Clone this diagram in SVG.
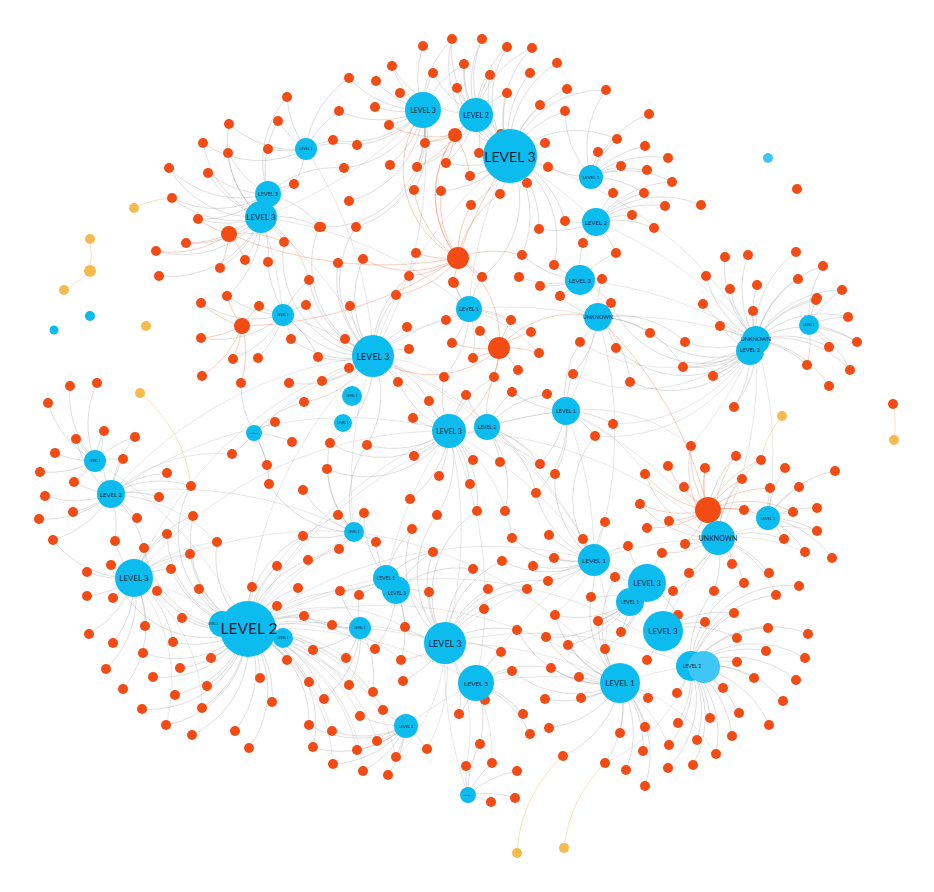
<svg xmlns="http://www.w3.org/2000/svg" width="934" height="892" viewBox="0 0 934 892">
<style>
.e{fill:none;stroke:#8c8c8c;stroke-width:.55;stroke-opacity:.5}
.l{fill:none;stroke:#9a9a9a;stroke-width:.5;stroke-opacity:.45}
.r{fill:none;stroke:#ee6a45;stroke-width:.6;stroke-opacity:.55}
.y{fill:none;stroke:#f3c27a;stroke-width:.6;stroke-opacity:.8}
.o{fill:#f24c14}
.b{fill:#0cbcef}
.b2{fill:#3fc6f4}
.yl{fill:#f6bb4f}
text{font-family:Lato,"Liberation Sans",sans-serif;fill:#0e2238;text-anchor:middle;dominant-baseline:central}
</style>
<rect width="934" height="892" fill="#fff"/>
<g id="connectors">
<path class="e" d="M510 156A99 99 0 0 1 452 39M510 156A99 99 0 0 1 482 39M510 156A99 99 0 0 1 507 47M510 156A99 99 0 0 1 532 48M510 156A99 99 0 0 1 464 64M510 156A99 99 0 0 1 490 75M510 156A99 99 0 0 1 530 73M510 156A99 99 0 0 1 557 63M510 156A99 99 0 0 1 457 88M510 156A99 99 0 0 1 567 89M510 156A99 99 0 0 1 507 93M510 156A99 99 0 0 1 540 105M510 156A99 99 0 0 1 565 111M510 156A99 99 0 0 1 501 134M510 156A99 99 0 0 1 479 153M510 156A99 99 0 0 1 545 143M510 156A99 99 0 0 1 548 167M510 156A99 99 0 0 1 527 183M510 156A99 99 0 0 1 500 194M510 156A99 99 0 0 1 470 176M510 156A99 99 0 0 1 446 163M510 156A99 99 0 0 1 441 191M510 156A99 99 0 0 1 471 205M510 156A99 99 0 0 1 539 229M510 156A99 99 0 0 1 565 221M510 156A99 99 0 0 1 522 255M510 156A99 99 0 0 1 606 90M510 156A99 99 0 0 1 617 139M510 156A99 99 0 0 1 554 265M510 156A99 99 0 0 1 482 277"/>
<path class="e" d="M423 110A99 99 0 0 1 423 46M423 110A99 99 0 0 1 392 66M423 110A99 99 0 0 1 433 73M423 110A99 99 0 0 1 349 78M423 110A99 99 0 0 1 376 81M423 110A99 99 0 0 1 400 93M423 110A99 99 0 0 1 339 111M423 110A99 99 0 0 1 375 107M423 110A99 99 0 0 1 389 125M423 110A99 99 0 0 1 333 140M423 110A99 99 0 0 1 357 145M423 110A99 99 0 0 1 425 143M423 110A99 99 0 0 1 344 168M423 110A99 99 0 0 1 390 165M423 110A99 99 0 0 1 417 167M423 110A99 99 0 0 1 414 190M423 110A99 99 0 0 1 349 201M423 110A99 99 0 0 1 452 39M423 110A99 99 0 0 1 464 64M423 110A99 99 0 0 1 321 227M423 110A99 99 0 0 1 356 227"/>
<path class="e" d="M476 115A99 99 0 0 1 452 39M476 115A99 99 0 0 1 482 39M476 115A99 99 0 0 1 464 64M476 115A99 99 0 0 1 490 75M476 115A99 99 0 0 1 457 88M476 115A99 99 0 0 1 433 73M476 115A99 99 0 0 1 507 93M476 115A99 99 0 0 1 425 143M476 115A99 99 0 0 1 446 163M476 115A99 99 0 0 1 479 153M476 115A99 99 0 0 1 501 134M476 115A99 99 0 0 1 507 47M476 115A99 99 0 0 1 532 48M476 115A99 99 0 0 1 392 66M476 115A99 99 0 0 1 417 167"/>
<path class="e" d="M306 149A99 99 0 0 1 287 97M306 149A99 99 0 0 1 278 121M306 149A99 99 0 0 1 268 149M306 149A99 99 0 0 1 294 184M306 149A99 99 0 0 1 333 140M306 149A99 99 0 0 1 339 111M306 149A99 99 0 0 1 229 124M306 149A99 99 0 0 1 203 143M306 149A99 99 0 0 1 349 78M306 149A99 99 0 0 1 357 145"/>
<path class="e" d="M261 217A99 99 0 0 1 228 153M261 217A99 99 0 0 1 169 168M261 217A99 99 0 0 1 208 173M261 217A99 99 0 0 1 172 198M261 217A99 99 0 0 1 198 219M261 217A99 99 0 0 1 186 243M261 217A99 99 0 0 1 156 251M261 217A99 99 0 0 1 159 276M261 217A99 99 0 0 1 220 268M261 217A99 99 0 0 1 245 260M261 217A99 99 0 0 1 268 262M261 217A99 99 0 0 1 284 242M261 217A99 99 0 0 1 319 227M261 217A99 99 0 0 1 309 280M261 217A99 99 0 0 1 227 296M261 217A99 99 0 0 1 294 184M261 217A99 99 0 0 1 203 143M261 217A99 99 0 0 1 229 124"/>
<path class="e" d="M268 194A99 99 0 0 1 278 121M268 194A99 99 0 0 1 287 97M268 194A99 99 0 0 1 228 153M268 194A99 99 0 0 1 208 173M268 194A99 99 0 0 1 169 168M268 194A99 99 0 0 1 172 198M268 194A99 99 0 0 1 294 184M268 194A99 99 0 0 1 321 227M268 194A99 99 0 0 1 344 168M268 194A99 99 0 0 1 198 219"/>
<path class="e" d="M591 177A99 99 0 0 1 598 152M591 177A99 99 0 0 1 613 193M591 177A99 99 0 0 1 617 139M591 177A99 99 0 0 1 621 166M591 177A99 99 0 0 1 645 146M591 177A99 99 0 0 1 647 170M591 177A99 99 0 0 1 649 114M591 177A99 99 0 0 1 668 158M591 177A99 99 0 0 1 672 182M591 177A99 99 0 0 1 644 193M591 177A99 99 0 0 1 565 111M591 177A99 99 0 0 1 548 167M591 177A99 99 0 0 1 606 90"/>
<path class="e" d="M596 222A99 99 0 0 1 583 243M596 222A99 99 0 0 1 565 221M596 222A99 99 0 0 1 613 193M596 222A99 99 0 0 1 632 215M596 222A99 99 0 0 1 654 228M596 222A99 99 0 0 1 665 206M596 222A99 99 0 0 1 701 205M596 222A99 99 0 0 1 616 253M596 222A99 99 0 0 1 539 229M596 222A99 99 0 0 1 644 193M596 222A99 99 0 0 1 672 182"/>
<path class="e" d="M580 280A99 99 0 0 1 554 265M580 280A99 99 0 0 1 560 296M580 280A99 99 0 0 1 540 286M580 280A99 99 0 0 1 602 279M580 280A99 99 0 0 1 519 277M580 280A99 99 0 0 1 616 253M580 280A99 99 0 0 1 611 303M580 280A99 99 0 0 1 583 243M580 280A99 99 0 0 1 522 255"/>
<path class="e" d="M598 317A99 99 0 0 1 611 303M598 317A99 99 0 0 1 616 348M598 317A99 99 0 0 1 580 342M598 317A99 99 0 0 1 560 297M598 317A99 99 0 0 1 630 382M598 317A99 99 0 0 1 650 333M598 317A99 99 0 0 1 683 367M598 317A99 99 0 0 1 685 342M598 317A99 99 0 0 1 602 279M598 317A99 99 0 0 1 573 374"/>
<path class="e" d="M469 309A99 99 0 0 1 446 320M469 309A99 99 0 0 1 480 331M469 309A99 99 0 0 1 452 343M469 309A99 99 0 0 1 473 358M469 309A99 99 0 0 1 454 283M469 309A99 99 0 0 1 511 320M469 309A99 99 0 0 1 453 282M469 309A99 99 0 0 1 482 277M469 309A99 99 0 0 1 444 377"/>
<path class="e" d="M373 356A99 99 0 0 1 396 296M373 356A99 99 0 0 1 350 306M373 356A99 99 0 0 1 407 327M373 356A99 99 0 0 1 345 339M373 356A99 99 0 0 1 409 349M373 356A99 99 0 0 1 318 357M373 356A99 99 0 0 1 349 368M373 356A99 99 0 0 1 322 381M373 356A99 99 0 0 1 398 382M373 356A99 99 0 0 1 306 305M373 356A99 99 0 0 1 304 402M373 356A99 99 0 0 1 291 339M373 356A99 99 0 0 1 289 383M373 356A99 99 0 0 1 356 227M373 356A99 99 0 0 1 363 259M373 356A99 99 0 0 1 338 263M373 356A99 99 0 0 1 409 276M373 356A99 99 0 0 1 330 443M373 356A99 99 0 0 1 367 445M373 356A99 99 0 0 1 429 401M373 356A99 99 0 0 1 284 242M373 356A99 99 0 0 1 319 227M373 356A99 99 0 0 1 309 280M373 356A99 99 0 0 1 268 262"/>
<path class="e" d="M449 431A99 99 0 0 1 444 377M449 431A99 99 0 0 1 429 401M449 431A99 99 0 0 1 466 395M449 431A99 99 0 0 1 413 418M449 431A99 99 0 0 1 414 456M449 431A99 99 0 0 1 439 476M449 431A99 99 0 0 1 473 460M449 431A99 99 0 0 1 470 484M449 431A99 99 0 0 1 437 515M449 431A99 99 0 0 1 410 499M449 431A99 99 0 0 1 477 511M449 431A99 99 0 0 1 398 382M449 431A99 99 0 0 1 494 377M449 431A99 99 0 0 1 367 445M449 431A99 99 0 0 1 330 443M449 431A99 99 0 0 1 327 469"/>
<path class="e" d="M487 427A99 99 0 0 1 512 392M487 427A99 99 0 0 1 500 462M487 427A99 99 0 0 1 540 464M487 427A99 99 0 0 1 547 394M487 427A99 99 0 0 1 505 511M487 427A99 99 0 0 1 466 395M487 427A99 99 0 0 1 494 377M487 427A99 99 0 0 1 536 493"/>
<path class="e" d="M566 411A99 99 0 0 1 573 374M566 411A99 99 0 0 1 547 394M566 411A99 99 0 0 1 613 424M566 411A99 99 0 0 1 595 436M566 411A99 99 0 0 1 555 474M566 411A99 99 0 0 1 536 493M566 411A99 99 0 0 1 580 342M566 411A99 99 0 0 1 540 464M566 411A99 99 0 0 1 512 392"/>
<path class="e" d="M283 315A99 99 0 0 1 259 306M283 315A99 99 0 0 1 306 305M283 315A99 99 0 0 1 291 339M283 315A99 99 0 0 1 258 358M283 315A99 99 0 0 1 227 296M283 315A99 99 0 0 1 201 303M283 315A99 99 0 0 1 201 338M283 315A99 99 0 0 1 233 359M283 315A99 99 0 0 1 309 280M283 315A99 99 0 0 1 318 357"/>
<path class="e" d="M254 433A99 99 0 0 1 275 422M254 433A99 99 0 0 1 232 454M254 433A99 99 0 0 1 267 465M254 433A99 99 0 0 1 292 442M254 433A99 99 0 0 1 241 383M254 433A99 99 0 0 1 269 484M254 433A99 99 0 0 1 304 402"/>
<path class="e" d="M95 461A99 99 0 0 1 70 386M95 461A99 99 0 0 1 97 383M95 461A99 99 0 0 1 48 403M95 461A99 99 0 0 1 104 431M95 461A99 99 0 0 1 76 439M95 461A99 99 0 0 1 135 437M95 461A99 99 0 0 1 55 453M95 461A99 99 0 0 1 123 459M95 461A99 99 0 0 1 40 472M95 461A99 99 0 0 1 74 482"/>
<path class="e" d="M111 494A99 99 0 0 1 45 496M111 494A99 99 0 0 1 73 512M111 494A99 99 0 0 1 39 519M111 494A99 99 0 0 1 137 518M111 494A99 99 0 0 1 53 540M111 494A99 99 0 0 1 115 541M111 494A99 99 0 0 1 144 548M111 494A99 99 0 0 1 159 497M111 494A99 99 0 0 1 167 473M111 494A99 99 0 0 1 191 486M111 494A99 99 0 0 1 123 459M111 494A99 99 0 0 1 76 439M111 494A99 99 0 0 1 104 431M111 494A99 99 0 0 1 135 437M111 494A99 99 0 0 1 74 482"/>
<path class="e" d="M134 578A99 99 0 0 1 111 565M134 578A99 99 0 0 1 171 569M134 578A99 99 0 0 1 87 572M134 578A99 99 0 0 1 157 591M134 578A99 99 0 0 1 87 596M134 578A99 99 0 0 1 113 598M134 578A99 99 0 0 1 190 554M134 578A99 99 0 0 1 167 534M134 578A99 99 0 0 1 193 516M134 578A99 99 0 0 1 145 626M134 578A99 99 0 0 1 89 634M134 578A99 99 0 0 1 113 643M134 578A99 99 0 0 1 106 669M134 578A99 99 0 0 1 123 689M134 578A99 99 0 0 1 144 548M134 578A99 99 0 0 1 115 541M134 578A99 99 0 0 1 53 540M134 578A99 99 0 0 1 173 642"/>
<path class="e" d="M247 629A99 99 0 0 1 199 589M247 629A99 99 0 0 1 252 587M247 629A99 99 0 0 1 298 588M247 629A99 99 0 0 1 277 606M247 629A99 99 0 0 1 182 618M247 629A99 99 0 0 1 173 642M247 629A99 99 0 0 1 143 653M247 629A99 99 0 0 1 211 658M247 629A99 99 0 0 1 180 668M247 629A99 99 0 0 1 153 677M247 629A99 99 0 0 1 207 686M247 629A99 99 0 0 1 175 695M247 629A99 99 0 0 1 202 708M247 629A99 99 0 0 1 142 709M247 629A99 99 0 0 1 166 725M247 629A99 99 0 0 1 192 735M247 629A99 99 0 0 1 235 731M247 629A99 99 0 0 1 249 748M247 629A99 99 0 0 1 260 678M247 629A99 99 0 0 1 272 702M247 629A99 99 0 0 1 287 660M247 629A99 99 0 0 1 304 616M247 629A99 99 0 0 1 313 650M247 629A99 99 0 0 1 309 682M247 629A99 99 0 0 1 309 725M247 629A99 99 0 0 1 313 747M247 629A99 99 0 0 1 217 542M247 629A99 99 0 0 1 277 566M247 629A99 99 0 0 1 303 536M247 629A99 99 0 0 1 308 560M247 629A99 99 0 0 1 332 625M247 629A99 99 0 0 1 324 699M247 629A99 99 0 0 1 193 516M247 629A99 99 0 0 1 191 486M247 629A99 99 0 0 1 167 534M247 629A99 99 0 0 1 144 548M247 629A99 99 0 0 1 171 569M247 629A99 99 0 0 1 190 554M247 629A99 99 0 0 1 157 591M247 629A99 99 0 0 1 111 565"/>
<path class="l" d="M247 629A160 160 0 0 1 405 627M247 629A160 160 0 0 1 375 649M247 629A160 160 0 0 1 346 658M247 629A160 160 0 0 1 401 660M247 629A160 160 0 0 1 349 685M247 629A160 160 0 0 1 373 692M247 629A160 160 0 0 1 383 710M247 629A160 160 0 0 1 360 716M247 629A160 160 0 0 1 332 731M247 629A160 160 0 0 1 357 750M247 629A160 160 0 0 1 333 764M247 629A160 160 0 0 1 363 771M247 629A160 160 0 0 1 377 741M247 629A160 160 0 0 1 396 757M247 629A160 160 0 0 1 340 591M247 629A160 160 0 0 1 339 549M247 629A160 160 0 0 1 338 515M445 643A160 160 0 0 1 427 749M445 643A160 160 0 0 1 396 757M445 643A160 160 0 0 1 466 766M445 643A160 160 0 0 1 492 763M756 340A160 160 0 0 1 580 342M756 340A160 160 0 0 1 573 374M756 340A160 160 0 0 1 613 424M756 340A160 160 0 0 1 595 436M134 578A160 160 0 0 1 217 542M134 578A160 160 0 0 1 202 708M134 578A160 160 0 0 1 166 725M111 494A160 160 0 0 1 217 542M111 494A160 160 0 0 1 232 454M449 431A160 160 0 0 1 540 464M449 431A160 160 0 0 1 512 538M594 560A160 160 0 0 1 605 649M594 560A160 160 0 0 1 555 615M620 683A160 160 0 0 1 716 754M620 683A160 160 0 0 1 669 745M691 666A160 160 0 0 1 605 763M718 538A160 160 0 0 1 817 531M718 538A160 160 0 0 1 805 552M566 411A160 160 0 0 1 645 474M566 411A160 160 0 0 1 691 446M487 427A160 160 0 0 1 555 474M373 356A160 160 0 0 1 446 320M373 356A160 160 0 0 1 444 377M469 309A160 160 0 0 1 539 353M469 309A160 160 0 0 1 531 332"/>
<path class="e" d="M354 532A99 99 0 0 1 338 515M354 532A99 99 0 0 1 364 513M354 532A99 99 0 0 1 327 469M354 532A99 99 0 0 1 376 542M354 532A99 99 0 0 1 339 549M354 532A99 99 0 0 1 330 443M354 532A99 99 0 0 1 367 445M354 532A99 99 0 0 1 308 560M354 532A99 99 0 0 1 303 536M354 532A99 99 0 0 1 303 490M354 532A99 99 0 0 1 269 484"/>
<path class="e" d="M386 578A99 99 0 0 1 412 529M386 578A99 99 0 0 1 433 552M386 578A99 99 0 0 1 359 595M386 578A99 99 0 0 1 340 591M386 578A99 99 0 0 1 376 542M386 578A99 99 0 0 1 364 513M396 590A99 99 0 0 1 429 592M396 590A99 99 0 0 1 405 627M396 590A99 99 0 0 1 375 649M396 590A99 99 0 0 1 401 660M396 590A99 99 0 0 1 473 569M396 590A99 99 0 0 1 433 552"/>
<path class="e" d="M360 628A99 99 0 0 1 332 625M360 628A99 99 0 0 1 346 658M360 628A99 99 0 0 1 313 650M360 628A99 99 0 0 1 349 685M360 628A99 99 0 0 1 373 692M360 628A99 99 0 0 1 324 699M360 628A99 99 0 0 1 304 616M360 628A99 99 0 0 1 340 591M360 628A99 99 0 0 1 359 595"/>
<path class="e" d="M445 643A99 99 0 0 1 484 609M445 643A99 99 0 0 1 488 589M445 643A99 99 0 0 1 429 592M445 643A99 99 0 0 1 405 627M445 643A99 99 0 0 1 401 660M445 643A99 99 0 0 1 403 681M445 643A99 99 0 0 1 501 652M445 643A99 99 0 0 1 517 630M445 643A99 99 0 0 1 473 569M445 643A99 99 0 0 1 459 714M445 643A99 99 0 0 1 433 552M445 643A99 99 0 0 1 412 529M445 643A99 99 0 0 1 437 515M445 643A99 99 0 0 1 477 511M445 643A99 99 0 0 1 502 561M445 643A99 99 0 0 1 527 589M445 643A99 99 0 0 1 548 581"/>
<path class="e" d="M476 683A99 99 0 0 1 459 714M476 683A99 99 0 0 1 485 700M476 683A99 99 0 0 1 512 671M476 683A99 99 0 0 1 501 652M476 683A99 99 0 0 1 480 744M476 683A99 99 0 0 1 523 714M476 683A99 99 0 0 1 530 734M476 683A99 99 0 0 1 551 668"/>
<path class="e" d="M406 726A99 99 0 0 1 383 710M406 726A99 99 0 0 1 360 716M406 726A99 99 0 0 1 377 741M406 726A99 99 0 0 1 427 749M406 726A99 99 0 0 1 396 757M406 726A99 99 0 0 1 357 750M406 726A99 99 0 0 1 388 775M406 726A99 99 0 0 1 363 771M406 726A99 99 0 0 1 332 731M406 726A99 99 0 0 1 333 764M406 726A99 99 0 0 1 314 748M406 726A99 99 0 0 1 309 725"/>
<path class="e" d="M468 795A99 99 0 0 1 491 802M468 795A99 99 0 0 1 515 798M468 795A99 99 0 0 1 466 766M468 795A99 99 0 0 1 492 763M468 795A99 99 0 0 1 480 744M468 795A99 99 0 0 1 517 771"/>
<path class="e" d="M718 538A99 99 0 0 1 685 544M718 538A99 99 0 0 1 732 564M718 538A99 99 0 0 1 689 573M718 538A99 99 0 0 1 714 591M718 538A99 99 0 0 1 744 583M718 538A99 99 0 0 1 673 591M718 538A99 99 0 0 1 662 553M718 538A99 99 0 0 1 784 539M718 538A99 99 0 0 1 769 573M718 538A99 99 0 0 1 776 595M718 538A99 99 0 0 1 742 479M718 538A99 99 0 0 1 705 468M718 538A99 99 0 0 1 645 474M718 538A99 99 0 0 1 640 504M718 538A99 99 0 0 1 691 446M718 538A99 99 0 0 1 736 456M718 538A99 99 0 0 1 761 460"/>
<path class="e" d="M768 518A99 99 0 0 1 785 468M768 518A99 99 0 0 1 799 487M768 518A99 99 0 0 1 793 512M768 518A99 99 0 0 1 817 508M768 518A99 99 0 0 1 817 531M768 518A99 99 0 0 1 805 552M768 518A99 99 0 0 1 832 558M768 518A99 99 0 0 1 835 471M768 518A99 99 0 0 1 770 488M768 518A99 99 0 0 1 784 539"/>
<path class="e" d="M594 560A99 99 0 0 1 583 539M594 560A99 99 0 0 1 554 558M594 560A99 99 0 0 1 605 523M594 560A99 99 0 0 1 615 577M594 560A99 99 0 0 1 628 546M594 560A99 99 0 0 1 549 535M594 560A99 99 0 0 1 591 597M594 560A99 99 0 0 1 548 581M594 560A99 99 0 0 1 533 566M594 560A99 99 0 0 1 512 538M594 560A99 99 0 0 1 502 561M594 560A99 99 0 0 1 555 474M594 560A99 99 0 0 1 536 493M594 560A99 99 0 0 1 595 436"/>
<path class="e" d="M647 583A99 99 0 0 1 615 577M647 583A99 99 0 0 1 673 591M647 583A99 99 0 0 1 605 649M647 583A99 99 0 0 1 621 632M647 583A99 99 0 0 1 598 621M647 583A99 99 0 0 1 591 597M647 583A99 99 0 0 1 662 553M647 583A99 99 0 0 1 628 546M647 583A99 99 0 0 1 678 615M630 602A99 99 0 0 1 598 621M630 602A99 99 0 0 1 621 632M630 602A99 99 0 0 1 568 645M630 602A99 99 0 0 1 555 615M630 602A99 99 0 0 1 546 637"/>
<path class="e" d="M663 631A99 99 0 0 1 678 615M663 631A99 99 0 0 1 705 622M663 631A99 99 0 0 1 647 660M663 631A99 99 0 0 1 673 591M663 631A99 99 0 0 1 737 638M663 631A99 99 0 0 1 734 613"/>
<path class="e" d="M620 683A99 99 0 0 1 579 677M620 683A99 99 0 0 1 581 698M620 683A99 99 0 0 1 605 649M620 683A99 99 0 0 1 545 699M620 683A99 99 0 0 1 549 728M620 683A99 99 0 0 1 605 763M620 683A99 99 0 0 1 620 733M620 683A99 99 0 0 1 645 727M620 683A99 99 0 0 1 648 698M620 683A99 99 0 0 1 563 756M620 683A99 99 0 0 1 643 751M620 683A99 99 0 0 1 626 770M620 683A99 99 0 0 1 645 786M620 683A99 99 0 0 1 598 621M620 683A99 99 0 0 1 551 668M620 683A99 99 0 0 1 568 645M620 683A99 99 0 0 1 591 597M620 683A99 99 0 0 1 615 577M620 683A99 99 0 0 1 555 615M620 683A99 99 0 0 1 546 637M620 683A99 99 0 0 1 517 630M620 683A99 99 0 0 1 512 671"/>
<path class="e" d="M691 666A99 99 0 0 1 734 613M691 666A99 99 0 0 1 768 628M691 666A99 99 0 0 1 808 634M691 666A99 99 0 0 1 766 651M691 666A99 99 0 0 1 805 658M691 666A99 99 0 0 1 737 662M691 666A99 99 0 0 1 754 678M691 666A99 99 0 0 1 796 680M691 666A99 99 0 0 1 723 688M691 666A99 99 0 0 1 783 701M691 666A99 99 0 0 1 739 713M691 666A99 99 0 0 1 710 718M691 666A99 99 0 0 1 769 725M691 666A99 99 0 0 1 677 693M691 666A99 99 0 0 1 678 723M691 666A99 99 0 0 1 697 740M691 666A99 99 0 0 1 732 736M691 666A99 99 0 0 1 669 745M691 666A99 99 0 0 1 716 754M691 666A99 99 0 0 1 668 768M691 666A99 99 0 0 1 693 765M691 666A99 99 0 0 1 776 595M691 666A99 99 0 0 1 799 586M691 666A99 99 0 0 1 744 583M691 666A99 99 0 0 1 714 591"/>
<path class="e" d="M756 340A99 99 0 0 1 725 257M756 340A99 99 0 0 1 748 255M756 340A99 99 0 0 1 730 289M756 340A99 99 0 0 1 757 285M756 340A99 99 0 0 1 753 311M756 340A99 99 0 0 1 720 326M756 340A99 99 0 0 1 703 304M756 340A99 99 0 0 1 685 342M756 340A99 99 0 0 1 683 367M756 340A99 99 0 0 1 713 376M756 340A99 99 0 0 1 734 407M756 340A99 99 0 0 1 706 276M756 340A99 99 0 0 1 796 252M756 340A99 99 0 0 1 798 279M756 340A99 99 0 0 1 816 300M756 340A99 99 0 0 1 829 347M756 340A99 99 0 0 1 857 342M756 340A99 99 0 0 1 829 386M756 340A99 99 0 0 1 807 365M756 340A99 99 0 0 1 850 370M756 340A99 99 0 0 1 848 317M756 340A99 99 0 0 1 842 290M756 340A99 99 0 0 1 817 298M756 340A99 99 0 0 1 823 266M750 351A99 99 0 0 1 650 333M750 351A99 99 0 0 1 611 303M750 351A99 99 0 0 1 616 348M750 351A99 99 0 0 1 630 382M750 351A99 99 0 0 1 720 326M750 351A99 99 0 0 1 683 367M750 351A99 99 0 0 1 713 376M750 351A99 99 0 0 1 734 407M809 325A99 99 0 0 1 816 300M809 325A99 99 0 0 1 842 290M809 325A99 99 0 0 1 848 317M809 325A99 99 0 0 1 857 342M809 325A99 99 0 0 1 829 347M809 325A99 99 0 0 1 807 365M809 325A99 99 0 0 1 823 266M809 325A99 99 0 0 1 850 370"/>
<path class="l" d="M373 356A400 400 0 0 1 510 156M373 356A400 400 0 0 1 469 309M373 356A400 400 0 0 1 449 431M469 309A400 400 0 0 1 510 156M449 431A400 400 0 0 1 445 643M449 431A400 400 0 0 1 594 560M247 629A400 400 0 0 1 449 431M247 629A400 400 0 0 1 445 643M247 629A400 400 0 0 1 373 356M247 629A400 400 0 0 1 476 683M247 629A400 400 0 0 1 620 683M134 578A400 400 0 0 1 247 629M111 494A400 400 0 0 1 373 356M261 217A400 400 0 0 1 373 356M423 110A400 400 0 0 1 373 356M598 317A400 400 0 0 1 756 340M598 317A400 400 0 0 1 566 411M566 411A400 400 0 0 1 718 538M580 280A400 400 0 0 1 756 340M596 222A400 400 0 0 1 756 340M449 431A400 400 0 0 1 718 538M445 643A400 400 0 0 1 620 683M476 683A400 400 0 0 1 620 683M594 560A400 400 0 0 1 718 538M663 631A400 400 0 0 1 718 538M469 309A400 400 0 0 1 598 317M487 427A400 400 0 0 1 566 411M354 532A400 400 0 0 1 373 356M386 578A400 400 0 0 1 449 431M360 628A400 400 0 0 1 445 643M247 629A400 400 0 0 1 354 532M247 629A400 400 0 0 1 594 560M134 578A400 400 0 0 1 354 532M111 494A400 400 0 0 1 354 532M254 433A400 400 0 0 1 373 356M283 315A400 400 0 0 1 373 356M261 217A400 400 0 0 1 283 315M306 149A400 400 0 0 1 373 356M756 340A400 400 0 0 1 718 538M756 340A400 400 0 0 1 768 518M756 340A400 400 0 0 1 691 446M95 461A400 400 0 0 1 247 629M247 629A400 400 0 0 1 406 726M247 629A400 400 0 0 1 386 578M134 578A400 400 0 0 1 373 356M476 683A400 400 0 0 1 594 560M445 643A400 400 0 0 1 594 560M620 683A400 400 0 0 1 691 666M594 560A400 400 0 0 1 647 583M373 356A400 400 0 0 1 487 427M510 156A400 400 0 0 1 596 222M476 115A400 400 0 0 1 510 156M423 110A400 400 0 0 1 261 217M566 411A400 400 0 0 1 594 560M487 427A400 400 0 0 1 594 560M449 431A400 400 0 0 1 476 683M354 532A400 400 0 0 1 445 643M406 726A400 400 0 0 1 476 683M468 795A400 400 0 0 1 445 643M134 578A400 400 0 0 1 449 431M111 494A400 400 0 0 1 449 431M247 629A400 400 0 0 1 566 411M247 629A400 400 0 0 1 691 666M373 356A400 400 0 0 1 594 560M261 217A400 400 0 0 1 469 309M510 156A400 400 0 0 1 756 340M598 317A400 400 0 0 1 594 560M445 643A400 400 0 0 1 691 666M354 532A400 400 0 0 1 620 683"/>
<path class="r" d="M458 258A99 99 0 0 1 416 253M458 258A99 99 0 0 1 453 282M458 258A99 99 0 0 1 482 277M458 258A99 99 0 0 1 409 276M458 258A99 99 0 0 1 441 191M458 258A99 99 0 0 1 471 205M458 258A99 99 0 0 1 500 194M458 258A99 99 0 0 1 414 190M458 258A99 99 0 0 1 455 135M458 258A99 99 0 0 1 423 110M458 258A99 99 0 0 1 476 115M458 258A99 99 0 0 1 499 348M458 258A99 99 0 0 1 396 295M458 258A99 99 0 0 1 363 259M458 258A99 99 0 0 1 522 255M455 135A99 99 0 0 1 425 143M455 135A99 99 0 0 1 446 163M455 135A99 99 0 0 1 417 167M455 135A99 99 0 0 1 389 125M455 135A99 99 0 0 1 470 176M229 234A99 99 0 0 1 198 219M229 234A99 99 0 0 1 186 243M229 234A99 99 0 0 1 220 268M229 234A99 99 0 0 1 245 260M229 234A99 99 0 0 1 284 242M229 234A99 99 0 0 1 156 251M242 326A99 99 0 0 1 201 303M242 326A99 99 0 0 1 201 338M242 326A99 99 0 0 1 233 359M242 326A99 99 0 0 1 202 376M242 326A99 99 0 0 1 241 383M242 326A99 99 0 0 1 259 306M242 326A99 99 0 0 1 227 296M499 348A99 99 0 0 1 531 332M499 348A99 99 0 0 1 539 353M499 348A99 99 0 0 1 518 370M499 348A99 99 0 0 1 494 377M499 348A99 99 0 0 1 473 358M499 348A99 99 0 0 1 511 320M499 348A99 99 0 0 1 480 331M499 348A99 99 0 0 1 452 343M499 348A99 99 0 0 1 598 317M499 348A99 99 0 0 1 373 356M499 348A99 99 0 0 1 449 431M708 510A99 99 0 0 1 691 446M708 510A99 99 0 0 1 736 456M708 510A99 99 0 0 1 705 468M708 510A99 99 0 0 1 742 479M708 510A99 99 0 0 1 684 487M708 510A99 99 0 0 1 668 466M708 510A99 99 0 0 1 744 510M708 510A99 99 0 0 1 669 521M708 510A99 99 0 0 1 685 544M708 510A99 99 0 0 1 640 504M708 510A99 99 0 0 1 647 528M708 510A99 99 0 0 1 645 474M708 510A99 99 0 0 1 761 460M708 510A99 99 0 0 1 770 488M708 510A99 99 0 0 1 718 538M708 510A99 99 0 0 1 768 518M708 510A99 99 0 0 1 793 512M708 510A99 99 0 0 1 732 564M598 317A400 400 0 0 1 708 510M458 258A400 400 0 0 1 229 234M458 258A400 400 0 0 1 242 326M458 258A400 400 0 0 1 510 156M229 234A400 400 0 0 1 261 217"/>
<path class="y" d="M134 208A99 99 0 0 1 172 198M90 239A99 99 0 0 1 90 271M90 271A99 99 0 0 1 64 290M140 393A140 140 0 0 1 191 486M782 416A99 99 0 0 0 761 460M893 404A99 99 0 0 1 894 440M517 853A140 140 0 0 1 563 756M564 848A140 140 0 0 1 605 763"/>
</g>
<g id="orange-nodes">
<g id="o1"><circle class="o" cx="287" cy="97" r="5"/></g>
<g id="o2"><circle class="o" cx="278" cy="121" r="5"/></g>
<g id="o3"><circle class="o" cx="229" cy="124" r="5"/></g>
<g id="o4"><circle class="o" cx="203" cy="143" r="5"/></g>
<g id="o5"><circle class="o" cx="228" cy="153" r="5"/></g>
<g id="o6"><circle class="o" cx="268" cy="149" r="5"/></g>
<g id="o7"><circle class="o" cx="169" cy="168" r="5"/></g>
<g id="o8"><circle class="o" cx="208" cy="173" r="5"/></g>
<g id="o9"><circle class="o" cx="294" cy="184" r="5"/></g>
<g id="o10"><circle class="o" cx="172" cy="198" r="5"/></g>
<g id="o11"><circle class="o" cx="198" cy="219" r="5"/></g>
<g id="o12"><circle class="o" cx="284" cy="242" r="5"/></g>
<g id="o13"><circle class="o" cx="186" cy="243" r="5"/></g>
<g id="o14"><circle class="o" cx="156" cy="251" r="5"/></g>
<g id="o15"><circle class="o" cx="245" cy="260" r="5"/></g>
<g id="o16"><circle class="o" cx="268" cy="262" r="5"/></g>
<g id="o17"><circle class="o" cx="220" cy="268" r="5"/></g>
<g id="o18"><circle class="o" cx="159" cy="276" r="5"/></g>
<g id="o19"><circle class="o" cx="309" cy="280" r="5"/></g>
<g id="o20"><circle class="o" cx="227" cy="296" r="5"/></g>
<g id="o21"><circle class="o" cx="319" cy="227" r="5"/></g>
<g id="o22"><circle class="o" cx="452" cy="39" r="5"/></g>
<g id="o23"><circle class="o" cx="482" cy="39" r="5"/></g>
<g id="o24"><circle class="o" cx="423" cy="46" r="5"/></g>
<g id="o25"><circle class="o" cx="507" cy="47" r="5"/></g>
<g id="o26"><circle class="o" cx="532" cy="48" r="5"/></g>
<g id="o27"><circle class="o" cx="464" cy="64" r="5"/></g>
<g id="o28"><circle class="o" cx="392" cy="66" r="5"/></g>
<g id="o29"><circle class="o" cx="433" cy="73" r="5"/></g>
<g id="o30"><circle class="o" cx="490" cy="75" r="5"/></g>
<g id="o31"><circle class="o" cx="530" cy="73" r="5"/></g>
<g id="o32"><circle class="o" cx="557" cy="63" r="5"/></g>
<g id="o33"><circle class="o" cx="349" cy="78" r="5"/></g>
<g id="o34"><circle class="o" cx="376" cy="81" r="5"/></g>
<g id="o35"><circle class="o" cx="457" cy="88" r="5"/></g>
<g id="o36"><circle class="o" cx="567" cy="89" r="5"/></g>
<g id="o37"><circle class="o" cx="606" cy="90" r="5"/></g>
<g id="o38"><circle class="o" cx="400" cy="93" r="5"/></g>
<g id="o39"><circle class="o" cx="507" cy="93" r="5"/></g>
<g id="o40"><circle class="o" cx="339" cy="111" r="5"/></g>
<g id="o41"><circle class="o" cx="375" cy="107" r="5"/></g>
<g id="o42"><circle class="o" cx="540" cy="105" r="5"/></g>
<g id="o43"><circle class="o" cx="565" cy="111" r="5"/></g>
<g id="o44"><circle class="o" cx="389" cy="125" r="5"/></g>
<g id="o45"><circle class="o" cx="501" cy="134" r="5"/></g>
<g id="o46"><circle class="o" cx="333" cy="140" r="5"/></g>
<g id="o47"><circle class="o" cx="357" cy="145" r="5"/></g>
<g id="o48"><circle class="o" cx="425" cy="143" r="5"/></g>
<g id="o49"><circle class="o" cx="479" cy="153" r="5"/></g>
<g id="o50"><circle class="o" cx="545" cy="143" r="5"/></g>
<g id="o51"><circle class="o" cx="617" cy="139" r="5"/></g>
<g id="o52"><circle class="o" cx="598" cy="152" r="5"/></g>
<g id="o53"><circle class="o" cx="344" cy="168" r="5"/></g>
<g id="o54"><circle class="o" cx="390" cy="165" r="5"/></g>
<g id="o55"><circle class="o" cx="417" cy="167" r="5"/></g>
<g id="o56"><circle class="o" cx="446" cy="163" r="5"/></g>
<g id="o57"><circle class="o" cx="470" cy="176" r="5"/></g>
<g id="o58"><circle class="o" cx="548" cy="167" r="5"/></g>
<g id="o59"><circle class="o" cx="527" cy="183" r="5"/></g>
<g id="o60"><circle class="o" cx="500" cy="194" r="5"/></g>
<g id="o61"><circle class="o" cx="414" cy="190" r="5"/></g>
<g id="o62"><circle class="o" cx="441" cy="191" r="5"/></g>
<g id="o63"><circle class="o" cx="471" cy="205" r="5"/></g>
<g id="o64"><circle class="o" cx="613" cy="193" r="5"/></g>
<g id="o65"><circle class="o" cx="349" cy="201" r="5"/></g>
<g id="o66"><circle class="o" cx="565" cy="221" r="5"/></g>
<g id="o67"><circle class="o" cx="539" cy="229" r="5"/></g>
<g id="o68"><circle class="o" cx="583" cy="243" r="5"/></g>
<g id="o69"><circle class="o" cx="321" cy="227" r="5"/></g>
<g id="o70"><circle class="o" cx="356" cy="227" r="5"/></g>
<g id="o71"><circle class="o" cx="416" cy="253" r="5"/></g>
<g id="o72"><circle class="o" cx="522" cy="255" r="5"/></g>
<g id="o73"><circle class="o" cx="363" cy="259" r="5"/></g>
<g id="o74"><circle class="o" cx="338" cy="263" r="5"/></g>
<g id="o75"><circle class="o" cx="554" cy="265" r="5"/></g>
<g id="o76"><circle class="o" cx="616" cy="253" r="5"/></g>
<g id="o77"><circle class="o" cx="409" cy="276" r="5"/></g>
<g id="o78"><circle class="o" cx="453" cy="282" r="5"/></g>
<g id="o79"><circle class="o" cx="482" cy="277" r="5"/></g>
<g id="o80"><circle class="o" cx="519" cy="277" r="5"/></g>
<g id="o81"><circle class="o" cx="540" cy="286" r="5"/></g>
<g id="o82"><circle class="o" cx="396" cy="295" r="5"/></g>
<g id="o83"><circle class="o" cx="602" cy="279" r="5"/></g>
<g id="o84"><circle class="o" cx="560" cy="296" r="5"/></g>
<g id="o85"><circle class="o" cx="455" cy="135" r="7"/></g>
<g id="o86"><circle class="o" cx="649" cy="114" r="5"/></g>
<g id="o87"><circle class="o" cx="645" cy="146" r="5"/></g>
<g id="o88"><circle class="o" cx="668" cy="158" r="5"/></g>
<g id="o89"><circle class="o" cx="621" cy="166" r="5"/></g>
<g id="o90"><circle class="o" cx="647" cy="170" r="5"/></g>
<g id="o91"><circle class="o" cx="672" cy="182" r="5"/></g>
<g id="o92"><circle class="o" cx="644" cy="193" r="5"/></g>
<g id="o93"><circle class="o" cx="665" cy="206" r="5"/></g>
<g id="o94"><circle class="o" cx="701" cy="205" r="5"/></g>
<g id="o95"><circle class="o" cx="632" cy="215" r="5"/></g>
<g id="o96"><circle class="o" cx="654" cy="228" r="5"/></g>
<g id="o97"><circle class="o" cx="725" cy="257" r="5"/></g>
<g id="o98"><circle class="o" cx="748" cy="255" r="5"/></g>
<g id="o99"><circle class="o" cx="796" cy="252" r="5"/></g>
<g id="o100"><circle class="o" cx="823" cy="266" r="5"/></g>
<g id="o101"><circle class="o" cx="706" cy="276" r="5"/></g>
<g id="o102"><circle class="o" cx="730" cy="289" r="5"/></g>
<g id="o103"><circle class="o" cx="757" cy="285" r="5"/></g>
<g id="o104"><circle class="o" cx="798" cy="279" r="5"/></g>
<g id="o105"><circle class="o" cx="842" cy="290" r="5"/></g>
<g id="o106"><circle class="o" cx="817" cy="298" r="5"/></g>
<g id="o107"><circle class="o" cx="797" cy="189" r="5"/></g>
<g id="o108"><circle class="o" cx="201" cy="303" r="5"/></g>
<g id="o109"><circle class="o" cx="259" cy="306" r="5"/></g>
<g id="o110"><circle class="o" cx="306" cy="305" r="5"/></g>
<g id="o111"><circle class="o" cx="201" cy="338" r="5"/></g>
<g id="o112"><circle class="o" cx="291" cy="339" r="5"/></g>
<g id="o113"><circle class="o" cx="233" cy="359" r="5"/></g>
<g id="o114"><circle class="o" cx="258" cy="358" r="5"/></g>
<g id="o115"><circle class="o" cx="318" cy="357" r="5"/></g>
<g id="o116"><circle class="o" cx="202" cy="376" r="5"/></g>
<g id="o117"><circle class="o" cx="241" cy="383" r="5"/></g>
<g id="o118"><circle class="o" cx="289" cy="383" r="5"/></g>
<g id="o119"><circle class="o" cx="304" cy="402" r="5"/></g>
<g id="o120"><circle class="o" cx="70" cy="386" r="5"/></g>
<g id="o121"><circle class="o" cx="97" cy="383" r="5"/></g>
<g id="o122"><circle class="o" cx="48" cy="403" r="5"/></g>
<g id="o123"><circle class="o" cx="275" cy="422" r="5"/></g>
<g id="o124"><circle class="o" cx="104" cy="431" r="5"/></g>
<g id="o125"><circle class="o" cx="76" cy="439" r="5"/></g>
<g id="o126"><circle class="o" cx="135" cy="437" r="5"/></g>
<g id="o127"><circle class="o" cx="292" cy="442" r="5"/></g>
<g id="o128"><circle class="o" cx="55" cy="453" r="5"/></g>
<g id="o129"><circle class="o" cx="123" cy="459" r="5"/></g>
<g id="o130"><circle class="o" cx="232" cy="454" r="5"/></g>
<g id="o131"><circle class="o" cx="267" cy="465" r="5"/></g>
<g id="o132"><circle class="o" cx="40" cy="472" r="5"/></g>
<g id="o133"><circle class="o" cx="74" cy="482" r="5"/></g>
<g id="o134"><circle class="o" cx="167" cy="473" r="5"/></g>
<g id="o135"><circle class="o" cx="191" cy="486" r="5"/></g>
<g id="o136"><circle class="o" cx="269" cy="484" r="5"/></g>
<g id="o137"><circle class="o" cx="303" cy="490" r="5"/></g>
<g id="o138"><circle class="o" cx="45" cy="496" r="5"/></g>
<g id="o139"><circle class="o" cx="159" cy="497" r="5"/></g>
<g id="o140"><circle class="o" cx="73" cy="512" r="5"/></g>
<g id="o141"><circle class="o" cx="39" cy="519" r="5"/></g>
<g id="o142"><circle class="o" cx="137" cy="518" r="5"/></g>
<g id="o143"><circle class="o" cx="193" cy="516" r="5"/></g>
<g id="o144"><circle class="o" cx="167" cy="534" r="5"/></g>
<g id="o145"><circle class="o" cx="53" cy="540" r="5"/></g>
<g id="o146"><circle class="o" cx="115" cy="541" r="5"/></g>
<g id="o147"><circle class="o" cx="144" cy="548" r="5"/></g>
<g id="o148"><circle class="o" cx="217" cy="542" r="5"/></g>
<g id="o149"><circle class="o" cx="303" cy="536" r="5"/></g>
<g id="o150"><circle class="o" cx="190" cy="554" r="5"/></g>
<g id="o151"><circle class="o" cx="308" cy="560" r="5"/></g>
<g id="o152"><circle class="o" cx="111" cy="565" r="5"/></g>
<g id="o153"><circle class="o" cx="171" cy="569" r="5"/></g>
<g id="o154"><circle class="o" cx="277" cy="566" r="5"/></g>
<g id="o155"><circle class="o" cx="87" cy="572" r="5"/></g>
<g id="o156"><circle class="o" cx="157" cy="591" r="5"/></g>
<g id="o157"><circle class="o" cx="199" cy="589" r="5"/></g>
<g id="o158"><circle class="o" cx="252" cy="587" r="5"/></g>
<g id="o159"><circle class="o" cx="298" cy="588" r="5"/></g>
<g id="o160"><circle class="o" cx="87" cy="596" r="5"/></g>
<g id="o161"><circle class="o" cx="113" cy="598" r="5"/></g>
<g id="o162"><circle class="o" cx="242" cy="326" r="8"/></g>
<g id="o163"><circle class="o" cx="229" cy="234" r="8"/></g>
<g id="o164"><circle class="o" cx="454" cy="283" r="5"/></g>
<g id="o165"><circle class="o" cx="611" cy="303" r="5"/></g>
<g id="o166"><circle class="o" cx="350" cy="306" r="5"/></g>
<g id="o167"><circle class="o" cx="446" cy="320" r="5"/></g>
<g id="o168"><circle class="o" cx="511" cy="320" r="5"/></g>
<g id="o169"><circle class="o" cx="407" cy="327" r="5"/></g>
<g id="o170"><circle class="o" cx="480" cy="331" r="5"/></g>
<g id="o171"><circle class="o" cx="531" cy="332" r="5"/></g>
<g id="o172"><circle class="o" cx="345" cy="339" r="5"/></g>
<g id="o173"><circle class="o" cx="452" cy="343" r="5"/></g>
<g id="o174"><circle class="o" cx="580" cy="342" r="5"/></g>
<g id="o175"><circle class="o" cx="616" cy="348" r="5"/></g>
<g id="o176"><circle class="o" cx="409" cy="349" r="5"/></g>
<g id="o177"><circle class="o" cx="539" cy="353" r="5"/></g>
<g id="o178"><circle class="o" cx="473" cy="358" r="5"/></g>
<g id="o179"><circle class="o" cx="349" cy="368" r="5"/></g>
<g id="o180"><circle class="o" cx="518" cy="370" r="5"/></g>
<g id="o181"><circle class="o" cx="573" cy="374" r="5"/></g>
<g id="o182"><circle class="o" cx="444" cy="377" r="5"/></g>
<g id="o183"><circle class="o" cx="494" cy="377" r="5"/></g>
<g id="o184"><circle class="o" cx="322" cy="381" r="5"/></g>
<g id="o185"><circle class="o" cx="398" cy="382" r="5"/></g>
<g id="o186"><circle class="o" cx="512" cy="392" r="5"/></g>
<g id="o187"><circle class="o" cx="547" cy="394" r="5"/></g>
<g id="o188"><circle class="o" cx="466" cy="395" r="5"/></g>
<g id="o189"><circle class="o" cx="429" cy="401" r="5"/></g>
<g id="o190"><circle class="o" cx="413" cy="418" r="5"/></g>
<g id="o191"><circle class="o" cx="613" cy="424" r="5"/></g>
<g id="o192"><circle class="o" cx="595" cy="436" r="5"/></g>
<g id="o193"><circle class="o" cx="330" cy="443" r="5"/></g>
<g id="o194"><circle class="o" cx="367" cy="445" r="5"/></g>
<g id="o195"><circle class="o" cx="414" cy="456" r="5"/></g>
<g id="o196"><circle class="o" cx="473" cy="460" r="5"/></g>
<g id="o197"><circle class="o" cx="500" cy="462" r="5"/></g>
<g id="o198"><circle class="o" cx="540" cy="464" r="5"/></g>
<g id="o199"><circle class="o" cx="555" cy="474" r="5"/></g>
<g id="o200"><circle class="o" cx="327" cy="469" r="5"/></g>
<g id="o201"><circle class="o" cx="439" cy="476" r="5"/></g>
<g id="o202"><circle class="o" cx="470" cy="484" r="5"/></g>
<g id="o203"><circle class="o" cx="536" cy="493" r="5"/></g>
<g id="o204"><circle class="o" cx="410" cy="499" r="5"/></g>
<g id="o205"><circle class="o" cx="477" cy="511" r="5"/></g>
<g id="o206"><circle class="o" cx="505" cy="511" r="5"/></g>
<g id="o207"><circle class="o" cx="338" cy="515" r="5"/></g>
<g id="o208"><circle class="o" cx="364" cy="513" r="5"/></g>
<g id="o209"><circle class="o" cx="437" cy="515" r="5"/></g>
<g id="o210"><circle class="o" cx="605" cy="522" r="5"/></g>
<g id="o211"><circle class="o" cx="412" cy="529" r="5"/></g>
<g id="o212"><circle class="o" cx="376" cy="542" r="5"/></g>
<g id="o213"><circle class="o" cx="512" cy="538" r="5"/></g>
<g id="o214"><circle class="o" cx="549" cy="535" r="5"/></g>
<g id="o215"><circle class="o" cx="583" cy="539" r="5"/></g>
<g id="o216"><circle class="o" cx="339" cy="549" r="5"/></g>
<g id="o217"><circle class="o" cx="433" cy="552" r="5"/></g>
<g id="o218"><circle class="o" cx="502" cy="561" r="5"/></g>
<g id="o219"><circle class="o" cx="554" cy="558" r="5"/></g>
<g id="o220"><circle class="o" cx="533" cy="566" r="5"/></g>
<g id="o221"><circle class="o" cx="473" cy="569" r="5"/></g>
<g id="o222"><circle class="o" cx="615" cy="577" r="5"/></g>
<g id="o223"><circle class="o" cx="548" cy="581" r="5"/></g>
<g id="o224"><circle class="o" cx="340" cy="591" r="5"/></g>
<g id="o225"><circle class="o" cx="359" cy="595" r="5"/></g>
<g id="o226"><circle class="o" cx="429" cy="592" r="5"/></g>
<g id="o227"><circle class="o" cx="488" cy="589" r="5"/></g>
<g id="o228"><circle class="o" cx="527" cy="589" r="5"/></g>
<g id="o229"><circle class="o" cx="591" cy="597" r="5"/></g>
<g id="o230"><circle class="o" cx="499" cy="348" r="11"/></g>
<g id="o231"><circle class="o" cx="458" cy="258" r="11"/></g>
<g id="o232"><circle class="o" cx="703" cy="304" r="5"/></g>
<g id="o233"><circle class="o" cx="816" cy="300" r="5"/></g>
<g id="o234"><circle class="o" cx="753" cy="311" r="5"/></g>
<g id="o235"><circle class="o" cx="848" cy="317" r="5"/></g>
<g id="o236"><circle class="o" cx="720" cy="326" r="5"/></g>
<g id="o237"><circle class="o" cx="650" cy="333" r="5"/></g>
<g id="o238"><circle class="o" cx="685" cy="342" r="5"/></g>
<g id="o239"><circle class="o" cx="857" cy="342" r="5"/></g>
<g id="o240"><circle class="o" cx="829" cy="347" r="5"/></g>
<g id="o241"><circle class="o" cx="683" cy="367" r="5"/></g>
<g id="o242"><circle class="o" cx="713" cy="376" r="5"/></g>
<g id="o243"><circle class="o" cx="807" cy="365" r="5"/></g>
<g id="o244"><circle class="o" cx="850" cy="370" r="5"/></g>
<g id="o245"><circle class="o" cx="630" cy="382" r="5"/></g>
<g id="o246"><circle class="o" cx="829" cy="386" r="5"/></g>
<g id="o247"><circle class="o" cx="734" cy="407" r="5"/></g>
<g id="o248"><circle class="o" cx="691" cy="446" r="5"/></g>
<g id="o249"><circle class="o" cx="736" cy="456" r="5"/></g>
<g id="o250"><circle class="o" cx="761" cy="460" r="5"/></g>
<g id="o251"><circle class="o" cx="785" cy="468" r="5"/></g>
<g id="o252"><circle class="o" cx="835" cy="471" r="5"/></g>
<g id="o253"><circle class="o" cx="645" cy="474" r="5"/></g>
<g id="o254"><circle class="o" cx="668" cy="466" r="5"/></g>
<g id="o255"><circle class="o" cx="705" cy="468" r="5"/></g>
<g id="o256"><circle class="o" cx="742" cy="479" r="5"/></g>
<g id="o257"><circle class="o" cx="684" cy="487" r="5"/></g>
<g id="o258"><circle class="o" cx="770" cy="488" r="5"/></g>
<g id="o259"><circle class="o" cx="799" cy="487" r="5"/></g>
<g id="o260"><circle class="o" cx="640" cy="504" r="5"/></g>
<g id="o261"><circle class="o" cx="744" cy="510" r="5"/></g>
<g id="o262"><circle class="o" cx="793" cy="512" r="5"/></g>
<g id="o263"><circle class="o" cx="817" cy="508" r="5"/></g>
<g id="o264"><circle class="o" cx="669" cy="521" r="5"/></g>
<g id="o265"><circle class="o" cx="647" cy="528" r="5"/></g>
<g id="o266"><circle class="o" cx="784" cy="539" r="5"/></g>
<g id="o267"><circle class="o" cx="817" cy="531" r="5"/></g>
<g id="o268"><circle class="o" cx="685" cy="544" r="5"/></g>
<g id="o269"><circle class="o" cx="628" cy="546" r="5"/></g>
<g id="o270"><circle class="o" cx="662" cy="553" r="5"/></g>
<g id="o271"><circle class="o" cx="805" cy="552" r="5"/></g>
<g id="o272"><circle class="o" cx="832" cy="558" r="5"/></g>
<g id="o273"><circle class="o" cx="732" cy="564" r="5"/></g>
<g id="o274"><circle class="o" cx="689" cy="573" r="5"/></g>
<g id="o275"><circle class="o" cx="769" cy="573" r="5"/></g>
<g id="o276"><circle class="o" cx="673" cy="591" r="5"/></g>
<g id="o277"><circle class="o" cx="714" cy="591" r="5"/></g>
<g id="o278"><circle class="o" cx="744" cy="583" r="5"/></g>
<g id="o279"><circle class="o" cx="799" cy="586" r="5"/></g>
<g id="o280"><circle class="o" cx="776" cy="595" r="5"/></g>
<g id="o281"><circle class="o" cx="893" cy="404" r="5"/></g>
<g id="o282"><circle class="o" cx="277" cy="606" r="5"/></g>
<g id="o283"><circle class="o" cx="304" cy="616" r="5"/></g>
<g id="o284"><circle class="o" cx="182" cy="618" r="5"/></g>
<g id="o285"><circle class="o" cx="145" cy="626" r="5"/></g>
<g id="o286"><circle class="o" cx="89" cy="634" r="5"/></g>
<g id="o287"><circle class="o" cx="113" cy="643" r="5"/></g>
<g id="o288"><circle class="o" cx="173" cy="642" r="5"/></g>
<g id="o289"><circle class="o" cx="143" cy="653" r="5"/></g>
<g id="o290"><circle class="o" cx="211" cy="658" r="5"/></g>
<g id="o291"><circle class="o" cx="313" cy="650" r="5"/></g>
<g id="o292"><circle class="o" cx="287" cy="660" r="5"/></g>
<g id="o293"><circle class="o" cx="106" cy="669" r="5"/></g>
<g id="o294"><circle class="o" cx="180" cy="668" r="5"/></g>
<g id="o295"><circle class="o" cx="153" cy="677" r="5"/></g>
<g id="o296"><circle class="o" cx="260" cy="678" r="5"/></g>
<g id="o297"><circle class="o" cx="309" cy="682" r="5"/></g>
<g id="o298"><circle class="o" cx="207" cy="686" r="5"/></g>
<g id="o299"><circle class="o" cx="123" cy="689" r="5"/></g>
<g id="o300"><circle class="o" cx="175" cy="695" r="5"/></g>
<g id="o301"><circle class="o" cx="272" cy="702" r="5"/></g>
<g id="o302"><circle class="o" cx="202" cy="708" r="5"/></g>
<g id="o303"><circle class="o" cx="142" cy="709" r="5"/></g>
<g id="o304"><circle class="o" cx="166" cy="725" r="5"/></g>
<g id="o305"><circle class="o" cx="309" cy="725" r="5"/></g>
<g id="o306"><circle class="o" cx="235" cy="731" r="5"/></g>
<g id="o307"><circle class="o" cx="192" cy="735" r="5"/></g>
<g id="o308"><circle class="o" cx="249" cy="748" r="5"/></g>
<g id="o309"><circle class="o" cx="313" cy="747" r="5"/></g>
<g id="o310"><circle class="o" cx="484" cy="609" r="5"/></g>
<g id="o311"><circle class="o" cx="332" cy="625" r="5"/></g>
<g id="o312"><circle class="o" cx="405" cy="627" r="5"/></g>
<g id="o313"><circle class="o" cx="555" cy="615" r="5"/></g>
<g id="o314"><circle class="o" cx="598" cy="621" r="5"/></g>
<g id="o315"><circle class="o" cx="517" cy="630" r="5"/></g>
<g id="o316"><circle class="o" cx="546" cy="637" r="5"/></g>
<g id="o317"><circle class="o" cx="568" cy="645" r="5"/></g>
<g id="o318"><circle class="o" cx="605" cy="649" r="5"/></g>
<g id="o319"><circle class="o" cx="375" cy="649" r="5"/></g>
<g id="o320"><circle class="o" cx="346" cy="658" r="5"/></g>
<g id="o321"><circle class="o" cx="401" cy="660" r="5"/></g>
<g id="o322"><circle class="o" cx="501" cy="652" r="5"/></g>
<g id="o323"><circle class="o" cx="551" cy="668" r="5"/></g>
<g id="o324"><circle class="o" cx="512" cy="671" r="5"/></g>
<g id="o325"><circle class="o" cx="579" cy="677" r="5"/></g>
<g id="o326"><circle class="o" cx="349" cy="685" r="5"/></g>
<g id="o327"><circle class="o" cx="403" cy="681" r="5"/></g>
<g id="o328"><circle class="o" cx="373" cy="692" r="5"/></g>
<g id="o329"><circle class="o" cx="324" cy="699" r="5"/></g>
<g id="o330"><circle class="o" cx="485" cy="700" r="5"/></g>
<g id="o331"><circle class="o" cx="545" cy="699" r="5"/></g>
<g id="o332"><circle class="o" cx="581" cy="698" r="5"/></g>
<g id="o333"><circle class="o" cx="383" cy="710" r="5"/></g>
<g id="o334"><circle class="o" cx="360" cy="716" r="5"/></g>
<g id="o335"><circle class="o" cx="459" cy="714" r="5"/></g>
<g id="o336"><circle class="o" cx="523" cy="714" r="5"/></g>
<g id="o337"><circle class="o" cx="332" cy="731" r="5"/></g>
<g id="o338"><circle class="o" cx="549" cy="728" r="5"/></g>
<g id="o339"><circle class="o" cx="530" cy="734" r="5"/></g>
<g id="o340"><circle class="o" cx="377" cy="741" r="5"/></g>
<g id="o341"><circle class="o" cx="427" cy="749" r="5"/></g>
<g id="o342"><circle class="o" cx="357" cy="750" r="5"/></g>
<g id="o343"><circle class="o" cx="480" cy="744" r="5"/></g>
<g id="o344"><circle class="o" cx="396" cy="757" r="5"/></g>
<g id="o345"><circle class="o" cx="563" cy="756" r="5"/></g>
<g id="o346"><circle class="o" cx="605" cy="763" r="5"/></g>
<g id="o347"><circle class="o" cx="492" cy="763" r="5"/></g>
<g id="o348"><circle class="o" cx="466" cy="766" r="5"/></g>
<g id="o349"><circle class="o" cx="333" cy="764" r="5"/></g>
<g id="o350"><circle class="o" cx="363" cy="771" r="5"/></g>
<g id="o351"><circle class="o" cx="388" cy="775" r="5"/></g>
<g id="o352"><circle class="o" cx="517" cy="771" r="5"/></g>
<g id="o353"><circle class="o" cx="491" cy="802" r="5"/></g>
<g id="o354"><circle class="o" cx="515" cy="798" r="5"/></g>
<g id="o355"><circle class="o" cx="678" cy="615" r="5"/></g>
<g id="o356"><circle class="o" cx="734" cy="613" r="5"/></g>
<g id="o357"><circle class="o" cx="705" cy="622" r="5"/></g>
<g id="o358"><circle class="o" cx="621" cy="632" r="5"/></g>
<g id="o359"><circle class="o" cx="768" cy="628" r="5"/></g>
<g id="o360"><circle class="o" cx="737" cy="638" r="5"/></g>
<g id="o361"><circle class="o" cx="808" cy="634" r="5"/></g>
<g id="o362"><circle class="o" cx="766" cy="651" r="5"/></g>
<g id="o363"><circle class="o" cx="805" cy="658" r="5"/></g>
<g id="o364"><circle class="o" cx="647" cy="660" r="5"/></g>
<g id="o365"><circle class="o" cx="737" cy="662" r="5"/></g>
<g id="o366"><circle class="o" cx="754" cy="678" r="5"/></g>
<g id="o367"><circle class="o" cx="796" cy="680" r="5"/></g>
<g id="o368"><circle class="o" cx="723" cy="688" r="5"/></g>
<g id="o369"><circle class="o" cx="648" cy="698" r="5"/></g>
<g id="o370"><circle class="o" cx="677" cy="693" r="5"/></g>
<g id="o371"><circle class="o" cx="783" cy="701" r="5"/></g>
<g id="o372"><circle class="o" cx="739" cy="713" r="5"/></g>
<g id="o373"><circle class="o" cx="710" cy="718" r="5"/></g>
<g id="o374"><circle class="o" cx="769" cy="725" r="5"/></g>
<g id="o375"><circle class="o" cx="645" cy="727" r="5"/></g>
<g id="o376"><circle class="o" cx="678" cy="723" r="5"/></g>
<g id="o377"><circle class="o" cx="620" cy="733" r="5"/></g>
<g id="o378"><circle class="o" cx="697" cy="740" r="5"/></g>
<g id="o379"><circle class="o" cx="732" cy="736" r="5"/></g>
<g id="o380"><circle class="o" cx="669" cy="745" r="5"/></g>
<g id="o381"><circle class="o" cx="643" cy="751" r="5"/></g>
<g id="o382"><circle class="o" cx="716" cy="754" r="5"/></g>
<g id="o383"><circle class="o" cx="626" cy="770" r="5"/></g>
<g id="o384"><circle class="o" cx="668" cy="768" r="5"/></g>
<g id="o385"><circle class="o" cx="693" cy="765" r="5"/></g>
<g id="o386"><circle class="o" cx="645" cy="786" r="5"/></g>
<g id="o387"><circle class="o" cx="708" cy="510" r="13"/></g>
</g>
<g id="yellow-nodes">
<g id="y1"><circle class="yl" cx="134" cy="208" r="5"/></g>
<g id="y2"><circle class="yl" cx="90" cy="239" r="5"/></g>
<g id="y3"><circle class="yl" cx="90" cy="271" r="6"/></g>
<g id="y4"><circle class="yl" cx="64" cy="290" r="5"/></g>
<g id="y5"><circle class="yl" cx="146" cy="326" r="5"/></g>
<g id="y6"><circle class="yl" cx="140" cy="393" r="5"/></g>
<g id="y7"><circle class="yl" cx="782" cy="416" r="5"/></g>
<g id="y8"><circle class="yl" cx="894" cy="440" r="5"/></g>
<g id="y9"><circle class="yl" cx="517" cy="853" r="5"/></g>
<g id="y10"><circle class="yl" cx="564" cy="848" r="5"/></g>
</g>
<g id="blue-nodes">
<g id="b-iso1"><circle class="b2" cx="768" cy="158" r="5"/></g>
<g id="b-iso2"><circle class="b" cx="90" cy="316" r="5"/></g>
<g id="b-iso3"><circle class="b" cx="54" cy="330" r="4.5"/></g>
<g id="bA"><circle class="b" cx="510" cy="156" r="27"/><text x="510" y="156" font-size="14">LEVEL 3</text></g>
<g id="bB"><circle class="b" cx="423" cy="110" r="18"/><text x="423" y="110" font-size="7">LEVEL 3</text></g>
<g id="bC"><circle class="b" cx="476" cy="115" r="17"/><text x="476" y="115" font-size="7">LEVEL 2</text></g>
<g id="bD"><circle class="b" cx="306" cy="149" r="11"/><text x="306" y="149" font-size="3.5">LEVEL 1</text></g>
<g id="bF"><circle class="b" cx="268" cy="194" r="13"/><text x="268" y="194" font-size="5.5">LEVEL 3</text></g>
<g id="bE"><circle class="b" cx="261" cy="217" r="16"/><text x="261" y="217" font-size="8">LEVEL 3</text></g>
<g id="bG"><circle class="b" cx="591" cy="177" r="12"/><text x="591" y="177" font-size="4.5">LEVEL 1</text></g>
<g id="bH"><circle class="b" cx="596" cy="222" r="14"/><text x="596" y="222" font-size="6">LEVEL 2</text></g>
<g id="bI"><circle class="b" cx="580" cy="280" r="15"/><text x="580" y="280" font-size="6">LEVEL 3</text></g>
<g id="bJ"><circle class="b" cx="598" cy="317" r="14"/><text x="598" y="317" font-size="5.5">UNKNOWN</text></g>
<g id="bK"><circle class="b" cx="469" cy="309" r="13"/><text x="469" y="309" font-size="5.5">LEVEL 1</text></g>
<g id="bL"><circle class="b" cx="373" cy="356" r="21"/><text x="373" y="356" font-size="9">LEVEL 3</text></g>
<g id="bL1"><circle class="b" cx="352" cy="396" r="10"/><text x="352" y="396" font-size="3">LEVEL 1</text></g>
<g id="bL2"><circle class="b" cx="343" cy="423" r="9"/><text x="343" y="423" font-size="3">LEVEL 1</text></g>
<g id="bM"><circle class="b" cx="449" cy="431" r="17"/><text x="449" y="431" font-size="7">LEVEL 3</text></g>
<g id="bN"><circle class="b" cx="487" cy="427" r="13"/><text x="487" y="427" font-size="5">LEVEL 2</text></g>
<g id="bO"><circle class="b" cx="566" cy="411" r="14"/><text x="566" y="411" font-size="5.5">LEVEL 1</text></g>
<g id="bP"><circle class="b" cx="283" cy="315" r="11"/><text x="283" y="315" font-size="3">LEVEL 1</text></g>
<g id="bQ"><circle class="b" cx="254" cy="433" r="8"/><text x="254" y="433" font-size="2.5">LEVEL 1</text></g>
<g id="bR"><circle class="b" cx="95" cy="461" r="11"/><text x="95" y="461" font-size="3">LEVEL 1</text></g>
<g id="bS"><circle class="b" cx="111" cy="494" r="14"/><text x="111" y="494" font-size="6">LEVEL 2</text></g>
<g id="bT"><circle class="b" cx="134" cy="578" r="19"/><text x="134" y="578" font-size="8">LEVEL 3</text></g>
<g id="bU1"><circle class="b" cx="756" cy="340" r="14"/></g>
<g id="bU2"><circle class="b" cx="750" cy="351" r="14"/><text x="756" y="339" font-size="5.5">UNKNOWN</text><text x="750" y="350" font-size="5.5">LEVEL 2</text></g>
<g id="bV"><circle class="b" cx="809" cy="325" r="10"/><text x="809" y="325" font-size="3">LEVEL 1</text></g>
<g id="bX"><circle class="b" cx="768" cy="518" r="12"/><text x="768" y="518" font-size="4">LEVEL 1</text></g>
<g id="bW"><circle class="b" cx="718" cy="538" r="17"/><text x="718" y="538" font-size="7">UNKNOWN</text></g>
<g id="bZ"><circle class="b" cx="594" cy="560" r="16"/><text x="594" y="560" font-size="6.5">LEVEL 1</text></g>
<g id="bY"><circle class="b" cx="647" cy="583" r="19"/><text x="647" y="583" font-size="7.5">LEVEL 3</text></g>
<g id="bAK"><circle class="b" cx="630" cy="602" r="14"/><text x="630" y="602" font-size="5">LEVEL 1</text></g>
<g id="bAJ"><circle class="b" cx="663" cy="631" r="20"/><text x="663" y="631" font-size="8">LEVEL 3</text></g>
<g id="bAL"><circle class="b" cx="691" cy="666" r="15"/><circle class="b2" cx="704" cy="667" r="16"/><text x="692" y="666" font-size="5">LEVEL 2</text></g>
<g id="bAI"><circle class="b" cx="620" cy="683" r="20"/><text x="620" y="683" font-size="8">LEVEL 1</text></g>
<g id="bAA"><circle class="b" cx="354" cy="532" r="10"/><text x="354" y="532" font-size="3">LEVEL 1</text></g>
<g id="bAB2"><circle class="b" cx="396" cy="590" r="14"/><text x="397" y="593" font-size="5">LEVEL 3</text></g>
<g id="bAB1"><circle class="b" cx="386" cy="578" r="13"/><text x="386" y="578" font-size="5">LEVEL 1</text></g>
<g id="bAC1"><circle class="b" cx="222" cy="624" r="13"/><text x="213" y="624" font-size="2.8">LEVEL 1</text></g>
<g id="bAC3"><circle class="b" cx="283" cy="638" r="10"/><text x="283" y="638" font-size="3">LEVEL 1</text></g>
<g id="bAC"><circle class="b" cx="248" cy="629" r="28"/><text x="249" y="628" font-size="15.5">LEVEL 2</text></g>
<g id="bAD"><circle class="b" cx="360" cy="628" r="11"/><text x="360" y="628" font-size="3">LEVEL 1</text></g>
<g id="bAE"><circle class="b" cx="445" cy="643" r="21"/><text x="445" y="643" font-size="9">LEVEL 3</text></g>
<g id="bAF"><circle class="b" cx="476" cy="683" r="18"/><text x="476" y="683" font-size="6.5">LEVEL 3</text></g>
<g id="bAG"><circle class="b" cx="406" cy="726" r="12"/><text x="406" y="726" font-size="4">LEVEL 1</text></g>
<g id="bAH"><circle class="b" cx="468" cy="795" r="8"/><text x="468" y="795" font-size="2.5">LEVEL 1</text></g>
</g>
</svg>
